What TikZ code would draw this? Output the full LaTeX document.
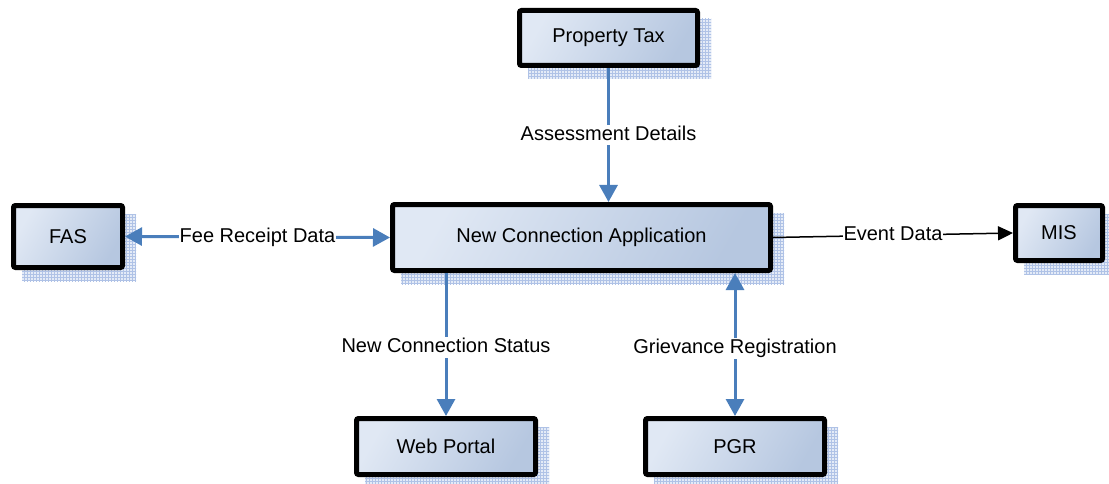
\documentclass[tikz,border=0pt]{standalone}
\usepackage{fontspec}
\setmainfont{Liberation Sans}
\usetikzlibrary{arrows.meta,patterns,backgrounds,calc}
\definecolor{flowblue}{HTML}{4A7EBB}
\definecolor{boxlight}{HTML}{E0E8F4}
\definecolor{boxdark}{HTML}{B6C7E0}
\definecolor{shadegrid}{HTML}{AFC2E6}
\definecolor{shadebase}{HTML}{E4EBF7}

\begin{document}
\begin{tikzpicture}[x=1pt,y=-1pt,
  sysbox/.style={draw=black, line width=5pt, rounded corners=2pt,
    top color=boxlight, bottom color=boxdark, shading angle=60,
    inner sep=0pt, text=black, font=\fontsize{20}{24}\selectfont},
  boxshadow/.style={preaction={fill=shadebase}, pattern=grid, pattern color=shadegrid},
  flow/.style={draw=flowblue, line width=3pt},
  bluetip/.style={-{Triangle[length=17pt,width=18pt]}},
  bluetips/.style={{Triangle[length=17pt,width=18pt]}-{Triangle[length=17pt,width=18pt]}},
  lbl/.style={fill=white, inner sep=1pt, text height=14.5pt, text depth=4pt,
    text=black, font=\fontsize{20}{24}\selectfont}
]
\useasboundingbox (0,0) rectangle (1109,484);

% systems
\node[sysbox, minimum width=178, minimum height=55] (pt)  at (608.5,38)    {Property Tax};
\node[sysbox, minimum width=109, minimum height=62] (fas) at (68,236.5)    {FAS};
\node[sysbox, minimum width=378, minimum height=66] (nca) at (581.5,237.5) {New Connection Application};
\node[sysbox, minimum width=87,  minimum height=55] (mis) at (1059,233)    {MIS};
\node[sysbox, minimum width=179, minimum height=56] (web) at (446,446.5)   {Web Portal};
\node[sysbox, minimum width=179, minimum height=56] (pgr) at (735,446.5)   {PGR};

% offset hatched shadows behind each box
\begin{scope}[on background layer]
  \foreach \n in {pt,fas,nca,mis,web,pgr}
    \fill[boxshadow] ($(\n.north west)+(11,11)$) rectangle ($(\n.south east)+(11,11)$);
\end{scope}

% data flows
\draw[flow, bluetip] (pt.south) -- (pt.south |- nca.north)
  node[midway, lbl] {Assessment Details};
\draw[flow, bluetips] (fas.east) -- (nca.west)
  node[midway, lbl] {Fee Receipt Data};
\draw[black, line width=1.5pt, -{Triangle[length=15pt,width=14pt]}] (nca.east) -- (mis.west)
  node[midway, lbl] {Event Data};
\draw[flow, bluetip] (nca.south -| web.north) -- (web.north)
  node[midway, lbl, yshift=-3pt] {New Connection Status};
\draw[flow, bluetips] (nca.south -| pgr.north) -- (pgr.north)
  node[midway, lbl, yshift=-4pt] {Grievance Registration};
\end{tikzpicture}
\end{document}
